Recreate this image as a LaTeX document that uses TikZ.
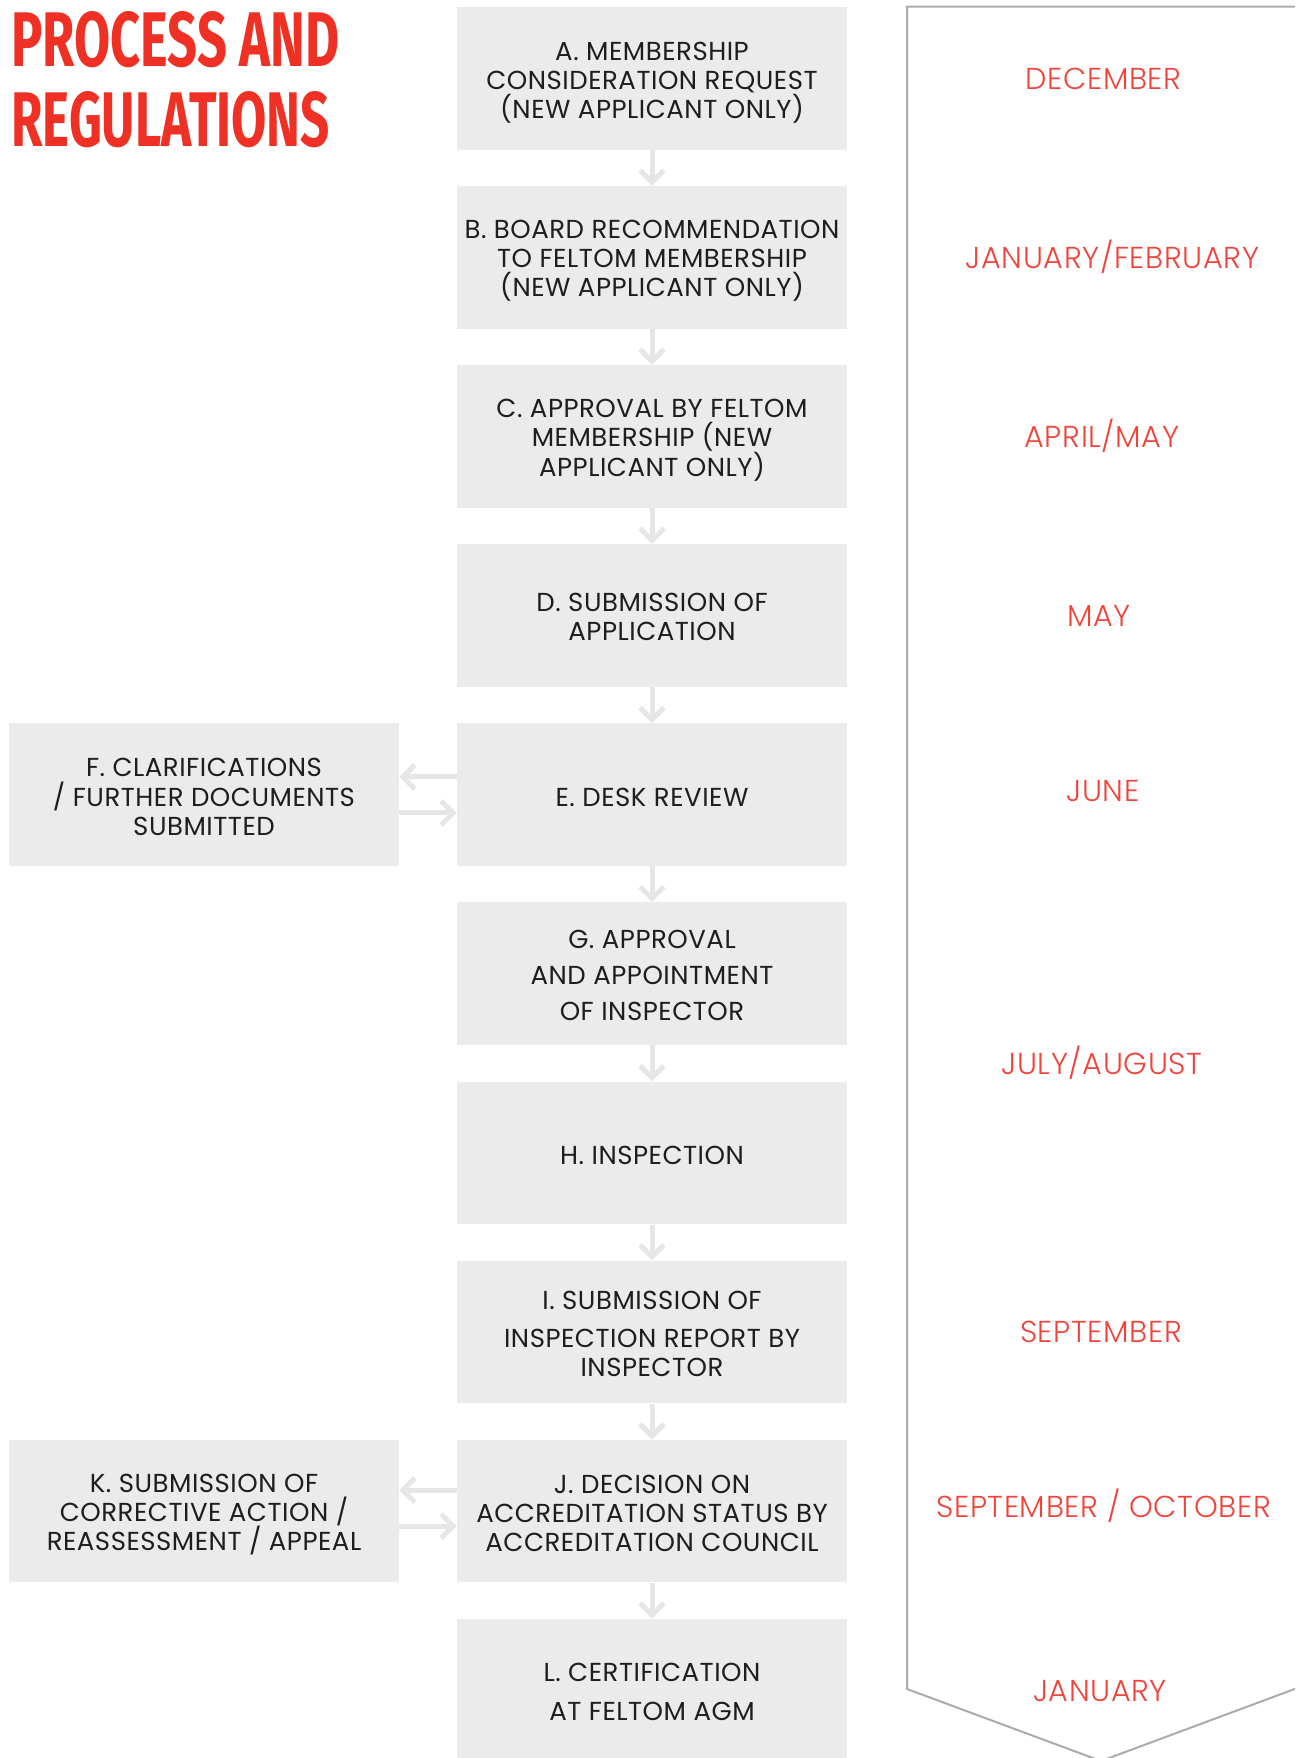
\documentclass[tikz,border=0pt]{standalone}
\usepackage{fontspec}
\usepackage{graphicx}
\setmainfont{Poppins}[LetterSpace=2]
\newfontfamily\titlefont{Fira Sans}
\newfontfamily\monthfont{Poppins Light}[LetterSpace=2]
\usetikzlibrary{arrows.meta}
\definecolor{boxgray}{HTML}{EBEBEB}
\definecolor{arrgray}{HTML}{E6E6E6}
\definecolor{panelgray}{HTML}{ABABAB}
\definecolor{titlered}{HTML}{EE3124}
\definecolor{monthred}{HTML}{F0443A}
\definecolor{txt}{HTML}{1E1E1E}
\begin{document}
\begin{tikzpicture}[x=0.75pt,y=-0.75pt,
  stepbox/.style={fill=boxgray, minimum width=292.5pt, minimum height=107pt, inner sep=0pt},
  steptext/.style={inner sep=0pt, align=center, text=txt, font=\fontsize{19.5}{21.8}\selectfont},
  flow/.style={draw=arrgray, line width=3.75pt, -{Straight Barb[length=9pt,width=18pt]}},
  month/.style={text=monthred, font=\monthfont\fontsize{22.7}{26}\selectfont, inner sep=0pt},
  title/.style={text=titlered, inner sep=0pt, anchor=base west}]
\useasboundingbox (0,0) rectangle (1295,1758);
\clip (0,0) rectangle (1295,1758);

% title
\node[title] (t1) at (11,67) {\resizebox{246pt}{41.25pt}{\titlefont\bfseries PROCESS AND}};
\node[title] (t2) at (11,147) {\resizebox{239pt}{41.25pt}{\titlefont\bfseries REGULATIONS}};

% timeline panel
\draw[panelgray, line width=1.5pt, line join=miter] (1300,6.7) -- (907,6.7) -- (907,1689) -- (1101,1761) -- (1300,1687);

% step boxes
\node[stepbox] (A) at (652,78.3) {};
\node[stepbox] (B) at (652,257.4) {};
\node[stepbox] (C) at (652,436.5) {};
\node[stepbox] (D) at (652,615.6) {};
\node[stepbox] (E) at (652,794.7) {};
\node[stepbox] (F) at (204,794.7) {};
\node[stepbox] (G) at (652,973.8) {};
\node[stepbox] (H) at (652,1152.9) {};
\node[stepbox] (I) at (652,1332.0) {};
\node[stepbox] (J) at (652,1511.1) {};
\node[stepbox] (K) at (204,1511.1) {};
\node[stepbox] (L) at (652,1690.2) {};

% step texts
\node[steptext] (At) at ([yshift=-3.4pt]A.center) {A. MEMBERSHIP\\CONSIDERATION REQUEST\\(NEW APPLICANT ONLY)};
\node[steptext] (Bt) at ([yshift=-2.5pt]B.center) {B. BOARD RECOMMENDATION\\TO FELTOM MEMBERSHIP\\(NEW APPLICANT ONLY)};
\node[steptext] (Ct) at ([yshift=-2.9pt]C.center) {C. APPROVAL BY FELTOM\\MEMBERSHIP (NEW\\APPLICANT ONLY)};
\node[steptext] (Dt) at ([yshift=-0.8pt]D.center) {D. SUBMISSION OF\\APPLICATION};
\node[steptext] (Et) at ([yshift=-1.7pt]E.center) {E. DESK REVIEW};
\node[steptext] (Ft) at ([yshift=-1.7pt]F.center) {F. CLARIFICATIONS\\/ FURTHER DOCUMENTS\\SUBMITTED};
\node[steptext] (Gt) at ([yshift=-1.3pt]G.center) {G. APPROVAL\\[5.2pt]AND APPOINTMENT\\[5.2pt]OF INSPECTOR};
\node[steptext] (Ht) at ([yshift=-1.7pt]H.center) {H. INSPECTION};
\node[steptext] (It) at ([yshift=-1.7pt]I.center) {I. SUBMISSION OF\\[6.8pt]INSPECTION REPORT BY\\INSPECTOR};
\node[steptext] (Jt) at ([yshift=-1.7pt]J.center) {J. DECISION ON\\ACCREDITATION STATUS BY\\ACCREDITATION COUNCIL};
\node[steptext] (Kt) at ([yshift=-2.5pt]K.center) {K. SUBMISSION OF\\CORRECTIVE ACTION /\\REASSESSMENT / APPEAL};
\node[steptext] (Lt) at ([yshift=-1.3pt]L.center) {L. CERTIFICATION\\[6.8pt]AT FELTOM AGM};

% connectors
\draw[flow] (A.south) -- (B.north);
\draw[flow] (B.south) -- (C.north);
\draw[flow] (C.south) -- (D.north);
\draw[flow] (D.south) -- (E.north);
\draw[flow] (E.south) -- (G.north);
\draw[flow] (G.south) -- (H.north);
\draw[flow] (H.south) -- (I.north);
\draw[flow] (I.south) -- (J.north);
\draw[flow] (J.south) -- (L.north);
\draw[flow] ([yshift=13.3pt]E.west) -- ([yshift=13.3pt]F.east);
\draw[flow] ([yshift=-13.7pt]F.east) -- ([yshift=-13.7pt]E.west);
\draw[flow] ([yshift=15.8pt]J.west) -- ([yshift=15.8pt]K.east);
\draw[flow] ([yshift=-11.2pt]K.east) -- ([yshift=-11.2pt]J.west);

% months
\node[month] (m1) at (1103.5,78.5) {DECEMBER};
\node[month] (m2) at (1112.5,257) {JANUARY/FEBRUARY};
\node[month] (m3) at (1102,436) {APRIL/MAY};
\node[month] (m4) at (1099,615.5) {MAY};
\node[month] (m5) at (1103,791.5) {JUNE};
\node[month] (m6) at (1102,1063) {JULY/AUGUST};
\node[month] (m7) at (1101,1332) {SEPTEMBER};
\node[month] (m8) at (1103.6,1505.5) {SEPTEMBER / OCTOBER};
\node[month] (m9) at (1100,1691) {JANUARY};
\end{tikzpicture}
\end{document}
